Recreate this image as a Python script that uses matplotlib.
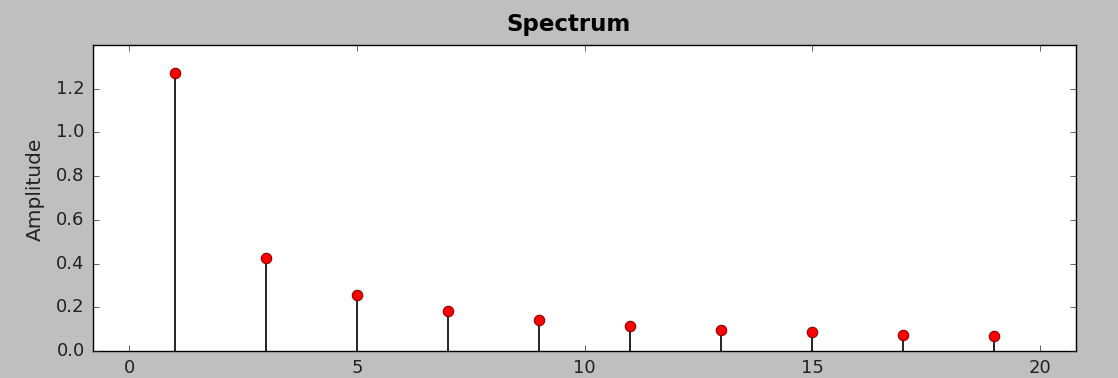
import matplotlib
matplotlib.use("Agg")
import matplotlib.pyplot as plt

plt.style.use('classic')

harmonics = [1, 3, 5, 7, 9, 11, 13, 15, 17, 19]
amplitudes = [1.273, 0.424, 0.255, 0.182, 0.141, 0.116, 0.098, 0.085, 0.075, 0.067]
x_ticks = [0, 5, 10, 15, 20]
y_ticks = [0.0, 0.2, 0.4, 0.6, 0.8, 1.0, 1.2]

W, H = 1118, 378
fig = plt.figure(figsize=(W/100, H/100), dpi=100, facecolor='#bfbfbf')
ax = fig.add_axes([93/W, 1 - 351/H, (1076-93)/W, (351-45)/H])
ax.set_facecolor('white')
markerline, stemlines, baseline = ax.stem(harmonics, amplitudes, linefmt='k-', markerfmt='ro', basefmt=' ')
plt.setp(markerline, markersize=7.5, markeredgecolor='#8b0000', markeredgewidth=0.8)
plt.setp(stemlines, linewidth=1.2)
ax.set_xlim(-0.8, 20.8)
ax.set_ylim(0, 1.4)
ax.set_xticks(x_ticks)
ax.set_yticks(y_ticks)
ax.set_yticklabels([f"{v:.1f}" for v in y_ticks])
ax.tick_params(labelsize=13, colors='#222222', pad=6)
ax.set_ylabel('Amplitude', fontsize=14.5, color='#222222')
ax.yaxis.set_label_coords(45/W, 0.5, transform=fig.transFigure)
fig.text(568/W, 1 - 24/H, 'Spectrum', fontsize=16.5, fontweight='bold', ha='center', va='center')
fig.savefig('out.png', dpi=100, facecolor=fig.get_facecolor())
